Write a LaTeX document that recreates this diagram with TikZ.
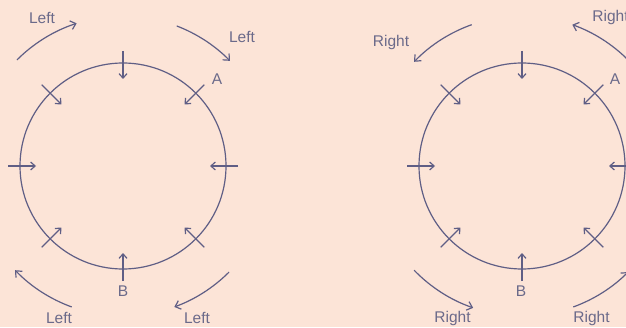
\documentclass[tikz,border=0pt]{standalone}
\usepackage{fontspec}
\setmainfont{Liberation Sans}
\usetikzlibrary{arrows.meta,calc}
\definecolor{bg}{HTML}{FCE4D7}
\definecolor{ink}{HTML}{5F5E85}
\definecolor{txt}{HTML}{6B6A8A}
\tikzset{
  ring/.style={circle,draw=ink,line width=1.2pt,minimum size=206pt,inner sep=0pt},
  spoke/.style={draw=ink,line width=1.2pt,-{Straight Barb[length=4.5pt,width=8pt]}},
  turn/.style={draw=ink,line width=1.2pt,-{Straight Barb[length=5pt,width=9pt]}},
  lbl/.style={text=txt,font=\fontsize{15.5}{18}\selectfont,inner sep=0pt}
}
\begin{document}
\begin{tikzpicture}[x=1pt,y=1pt]
\useasboundingbox (0,0) rectangle (626,327);
\clip (0,0) rectangle (626,327);
\fill[bg] (0,0) rectangle (626,327);
% left diagram
\coordinate (LC) at (123,161);
\node[ring] (L) at (LC) {};
\foreach \a in {0,45,...,315}{
  \draw[spoke] ($(LC)+(\a:115)$) -- ($(LC)+(\a:87)$);
}
\draw[turn] ($(LC)+(135:150)$) arc[start angle=135,end angle=108,radius=150];
\draw[turn] ($(LC)+(69:150)$) arc[start angle=69,end angle=44.5,radius=150];
\draw[turn] ($(LC)+(-45:150)$) arc[start angle=-45,end angle=-70,radius=150];
\draw[turn] ($(LC)+(-110:150)$) arc[start angle=-110,end angle=-136,radius=150];
\node[lbl] (l1) at (42,309) {Left};
\node[lbl] (l2) at (242,290) {Left};
\node[lbl] (l3) at (197,9) {Left};
\node[lbl] (l4) at (59,9) {Left};
\node[lbl] (la) at (217,248) {A};
\node[lbl] (lb) at (123,36) {B};
% right diagram
\coordinate (RC) at (522,161);
\node[ring] (R) at (RC) {};
\foreach \a in {0,45,...,315}{
  \draw[spoke] ($(RC)+(\a:115)$) -- ($(RC)+(\a:87)$);
}
\draw[turn] ($(RC)+(109.6:150)$) arc[start angle=109.6,end angle=136,radius=150];
\draw[turn] ($(RC)+(45:150)$) arc[start angle=45,end angle=70.4,radius=150];
\draw[turn] ($(RC)+(-136:150)$) arc[start angle=-136,end angle=-109,radius=150];
\draw[turn] ($(RC)+(-70:150)$) arc[start angle=-70,end angle=-45,radius=150];
\node[lbl] (r1) at (391,285) {Right};
\node[lbl] (r2) at (610.5,310) {Right};
\node[lbl] (r3) at (452.5,9) {Right};
\node[lbl] (r4) at (591.5,9) {Right};
\node[lbl] (ra) at (615,248) {A};
\node[lbl] (rb) at (521,36) {B};
\end{tikzpicture}
\end{document}
